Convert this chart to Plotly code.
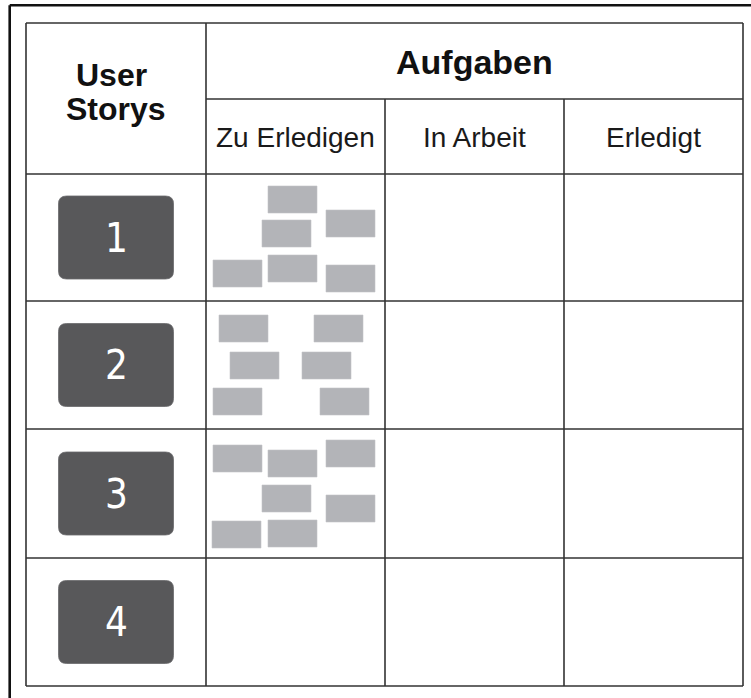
import plotly.graph_objects as go

# ---- content ----
row_header = ["User", "Storys"]
group_title = "Aufgaben"
columns = ["Zu Erledigen", "In Arbeit", "Erledigt"]
stories = ["1", "2", "3", "4"]

# task cards in the "Zu Erledigen" column, per story: offsets (px) inside the cell
story1_task_dx = [62, 120, 56, 7, 62, 120]
story1_task_dy = [12, 36, 46, 86, 81, 91]
story2_task_dx = [13, 108, 24, 96, 7, 114]
story2_task_dy = [14, 14, 51, 51, 87, 87]
story3_task_dx = [7, 62, 120, 56, 120, 6, 62]
story3_task_dy = [16, 21, 11, 56, 66, 92, 91]
story4_task_dx = []
story4_task_dy = []
tasks_dx = [story1_task_dx, story2_task_dx, story3_task_dx, story4_task_dx]
tasks_dy = [story1_task_dy, story2_task_dy, story3_task_dy, story4_task_dy]

# ---- geometry / style ----
W, H = 751, 698
col_x = [26, 206, 385, 564, 743]
head_top, head_mid, head_bot = 23, 99, 174
row_y = [174, 301, 429, 558, 686]
line_col = "#333333"
lw = 1.6
task_w, task_h = 49, 27
task_col = "#b3b4b8"
story_col = "#58585a"
box_w, box_h, r = 115, 83, 8

shapes = []

def line(x0, y0, x1, y1, color=line_col, width=lw):
    shapes.append(dict(type="line", xref="x", yref="y", x0=x0, y0=y0, x1=x1, y1=y1,
                       line=dict(color=color, width=width)))

# outer frame (top and left visible)
line(9.7, 5.3, W + 2, 5.3, color="#111111", width=2.6)
line(9.7, 5.3, 9.7, H + 2, color="#111111", width=2.6)

# table grid
line(col_x[0], head_top, col_x[-1], head_top)
line(col_x[1], head_mid, col_x[-1], head_mid)
for y in row_y:
    line(col_x[0], y, col_x[-1], y)
line(col_x[0], head_top, col_x[0], row_y[-1])
line(col_x[1], head_top, col_x[1], row_y[-1])
line(col_x[-1], head_top, col_x[-1], row_y[-1])
for x in col_x[2:4]:
    line(x, head_mid, x, row_y[-1])

# task cards
for i in range(len(stories)):
    for dx, dy in zip(tasks_dx[i], tasks_dy[i]):
        x0 = col_x[1] + dx
        y0 = row_y[i] + dy
        shapes.append(dict(type="rect", xref="x", yref="y", x0=x0, y0=y0,
                           x1=x0 + task_w, y1=y0 + task_h,
                           fillcolor=task_col, line=dict(width=0.6, color="#c4c5c8"), layer="above"))

# story boxes (rounded)
annotations = []
for i, s in enumerate(stories):
    cx = (col_x[0] + col_x[1]) / 2
    cy = (row_y[i] + row_y[i + 1]) / 2
    x0, x1 = cx - box_w / 2, cx + box_w / 2
    y0, y1 = cy - box_h / 2, cy + box_h / 2
    path = (f"M {x0 + r},{y0} L {x1 - r},{y0} Q {x1},{y0} {x1},{y0 + r} "
            f"L {x1},{y1 - r} Q {x1},{y1} {x1 - r},{y1} L {x0 + r},{y1} "
            f"Q {x0},{y1} {x0},{y1 - r} L {x0},{y0 + r} Q {x0},{y0} {x0 + r},{y0} Z")
    shapes.append(dict(type="path", xref="x", yref="y", path=path,
                       fillcolor=story_col, line=dict(width=0.8, color="#6a6a6c")))
    annotations.append(dict(x=cx, y=cy, xref="x", yref="y", text=s, showarrow=False,
                            xanchor="center", yanchor="middle",
                            font=dict(family="Liberation Sans Narrow, DejaVu Sans Condensed, Liberation Sans, Arial",
                                      size=40, color="white")))

# header texts
annotations.append(dict(x=(col_x[0] + col_x[1]) / 2 - 5, y=75, xref="x", yref="y",
                        text="<b>" + row_header[0] + "</b>", showarrow=False,
                        font=dict(family="Liberation Sans, Arial", size=32, color="#111111")))
annotations.append(dict(x=(col_x[0] + col_x[1]) / 2, y=109, xref="x", yref="y",
                        text="<b>" + row_header[1] + "</b>", showarrow=False,
                        font=dict(family="Liberation Sans, Arial", size=32, color="#111111")))
annotations.append(dict(x=(col_x[1] + col_x[-1]) / 2, y=62, xref="x", yref="y",
                        text="<b>" + group_title + "</b>", showarrow=False,
                        font=dict(family="Liberation Sans, Arial", size=34, color="#111111")))
for j, c in enumerate(columns):
    annotations.append(dict(x=(col_x[j + 1] + col_x[j + 2]) / 2, y=137, xref="x", yref="y",
                            text=c, showarrow=False,
                            font=dict(family="Liberation Sans, Arial", size=28, color="#1a1a1a")))

fig = go.Figure()
fig.add_trace(go.Scatter(x=[0, W], y=[0, H], mode="markers", marker=dict(opacity=0),
                         hoverinfo="skip", showlegend=False))
fig.update_layout(
    width=W, height=H, margin=dict(l=0, r=0, t=0, b=0),
    paper_bgcolor="white", plot_bgcolor="white",
    xaxis=dict(range=[0, W], visible=False, fixedrange=True),
    yaxis=dict(range=[H, 0], visible=False, fixedrange=True),
    shapes=shapes, annotations=annotations, showlegend=False,
)
fig.write_html("out.html", config={"displayModeBar": False},
               post_script="document.body.style.margin='0';document.body.style.overflow='hidden';")
